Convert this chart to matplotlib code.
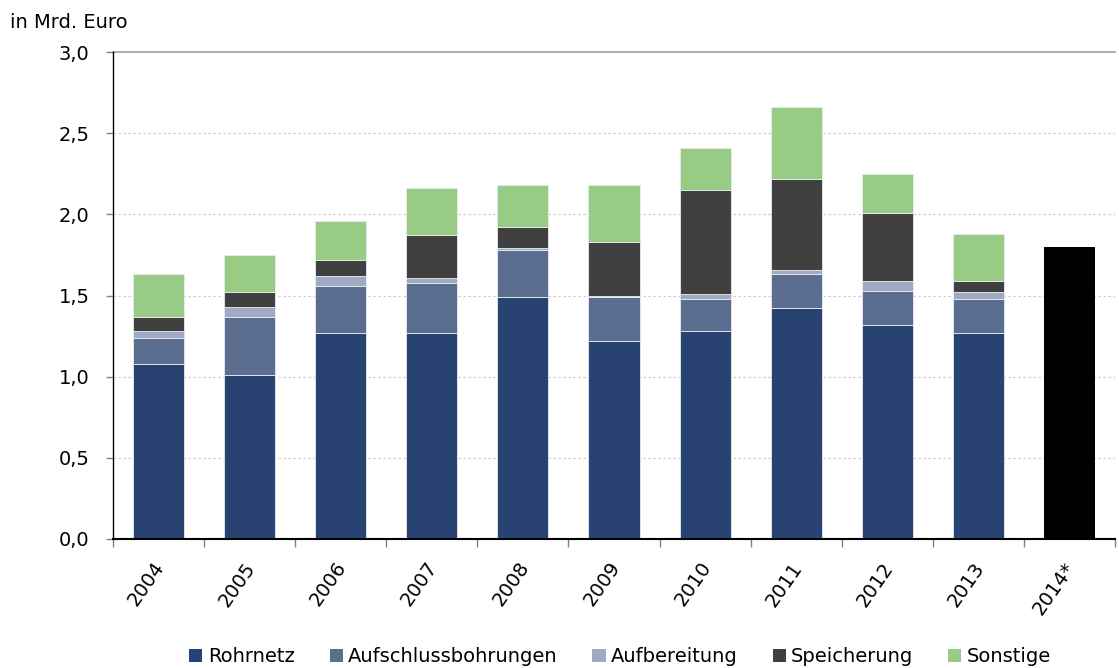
import matplotlib
matplotlib.use("Agg")
import matplotlib.pyplot as plt
import matplotlib.transforms as mtransforms
from matplotlib.ticker import FixedLocator, FuncFormatter
from matplotlib.patches import Patch
import numpy as np

plt.rcParams['font.family'] = ['DejaVu Sans']

years = ['2004', '2005', '2006', '2007', '2008', '2009', '2010', '2011', '2012', '2013', '2014*']
rohrnetz = [1.08, 1.01, 1.27, 1.27, 1.49, 1.22, 1.28, 1.42, 1.32, 1.27]
aufschluss = [0.16, 0.36, 0.29, 0.31, 0.29, 0.27, 0.20, 0.21, 0.21, 0.21]
aufbereitung = [0.04, 0.06, 0.06, 0.03, 0.01, 0.01, 0.03, 0.03, 0.06, 0.04]
speicherung = [0.09, 0.09, 0.10, 0.26, 0.13, 0.33, 0.64, 0.56, 0.42, 0.07]
sonstige = [0.26, 0.23, 0.24, 0.29, 0.26, 0.35, 0.26, 0.44, 0.24, 0.29]
total_2014 = [1.80]

series_names = ['Rohrnetz', 'Aufschlussbohrungen', 'Aufbereitung', 'Speicherung', 'Sonstige']
series = [rohrnetz, aufschluss, aufbereitung, speicherung, sonstige]
colors = ['#284271', '#5b6e8f', '#a0abc3', '#404040', '#98cb84']

W, H = 1119, 668
fig = plt.figure(figsize=(W / 100, H / 100), dpi=100)
ax = fig.add_axes([113 / W, 1 - 539 / H, (1115 - 113) / W, (539 - 52) / H])

x = np.arange(len(years) - 1)
bw = 0.56
bottom = np.zeros(len(x))
for name, vals, c in zip(series_names, series, colors):
    ax.bar(x, vals, bw, bottom=bottom, color=c, edgecolor='#e8ecf2', linewidth=0.6, zorder=3)
    bottom += np.array(vals)
ax.bar([len(years) - 1], total_2014, bw, color='black', zorder=3)

ax.set_xlim(-0.5, len(years) - 0.5)
ax.set_ylim(0, 3.0)

# grid
for yv in [0.5, 1.0, 1.5, 2.0, 2.5]:
    ax.axhline(yv, color='#cfcfcf', linestyle=(0, (2, 2)), linewidth=0.9, zorder=1)
ax.axhline(3.0, color='#a0a0a0', linewidth=1.2, zorder=1, clip_on=False)

for s in ['top', 'right']:
    ax.spines[s].set_visible(False)
ax.spines['left'].set_color('black')
ax.spines['left'].set_linewidth(1.0)
ax.spines['bottom'].set_color('black')
ax.spines['bottom'].set_linewidth(1.5)
ax.spines['bottom'].set_zorder(5)

ax.set_yticks(np.arange(0, 3.01, 0.5))
ax.yaxis.set_major_formatter(FuncFormatter(lambda v, p: f"{v:.1f}".replace('.', ',')))
ax.tick_params(axis='y', length=5, width=1, color='#808080', pad=12, labelsize=14)

ax.set_xticks(x.tolist() + [len(years) - 1])
ax.set_xticklabels(years, rotation=55, ha='right', va='center', rotation_mode='anchor', fontsize=14)
ax.tick_params(axis='x', which='major', length=0, pad=18)
ax.xaxis.set_minor_locator(FixedLocator(np.arange(-0.5, len(years), 1.0)))
ax.tick_params(axis='x', which='minor', length=6, width=1, color='#808080')
offset = mtransforms.ScaledTranslation(2 / 100, 0, fig.dpi_scale_trans)
for lab in ax.get_xticklabels():
    lab.set_transform(lab.get_transform() + offset)

fig.text(10 / W, 1 - 22 / H, 'in Mrd. Euro', fontsize=14, va='center', ha='left')

handles = [Patch(facecolor=c, edgecolor='none') for c in colors]
fig.legend(handles, series_names, loc='center', bbox_to_anchor=(620 / W, 1 - 657 / H), ncol=5,
           frameon=False, fontsize=14, handlelength=0.67, handleheight=0.67,
           handletextpad=0.27, columnspacing=1.8, borderpad=0, borderaxespad=0)

fig.savefig('out.png', dpi=100)
